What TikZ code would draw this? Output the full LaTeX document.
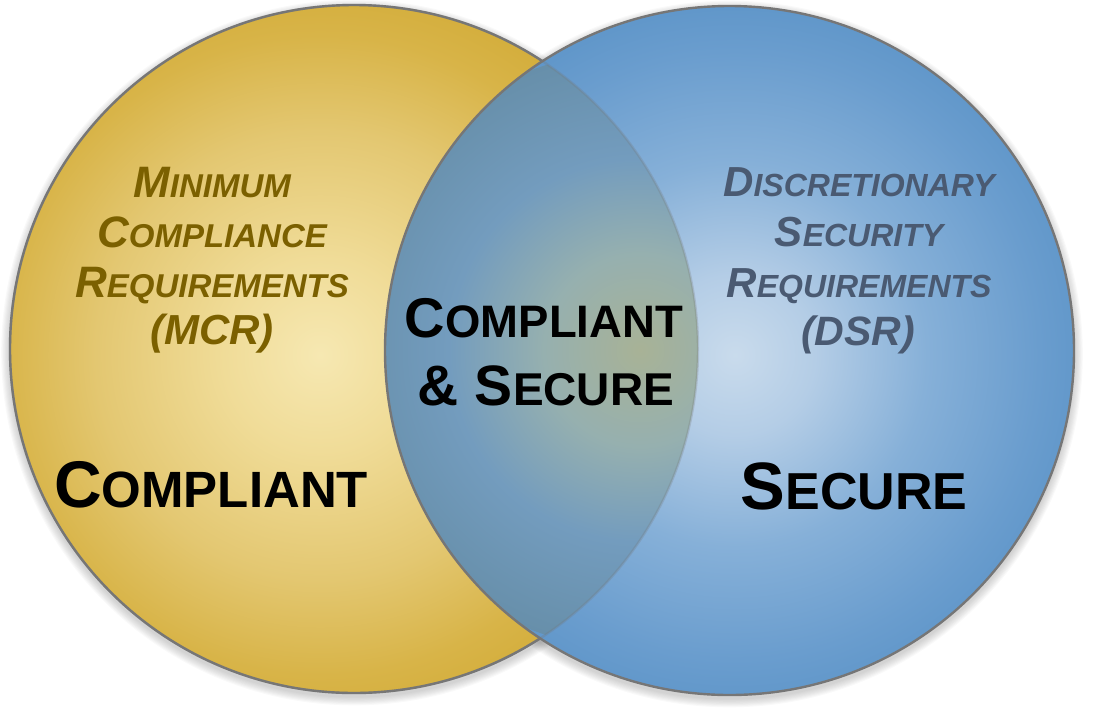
\documentclass[tikz,border=0pt]{standalone}
\usepackage{fontspec}
\setmainfont{Liberation Sans}
\definecolor{g0}{HTML}{F6E8B2}
\definecolor{g1}{HTML}{F0DC98}
\definecolor{g2}{HTML}{E3C771}
\definecolor{g3}{HTML}{D8B448}
\definecolor{g4}{HTML}{D1AA35}
\definecolor{b0}{HTML}{C9DBEC}
\definecolor{b1}{HTML}{B4CDE6}
\definecolor{b2}{HTML}{86B0D8}
\definecolor{b3}{HTML}{6A9DCE}
\definecolor{b4}{HTML}{5690C5}
\definecolor{o0}{RGB}{168,178,150}
\definecolor{o1}{RGB}{150,176,175}
\definecolor{o2}{RGB}{115,156,190}
\definecolor{o3}{RGB}{103,143,170}
\definecolor{linegrey}{HTML}{767676}
\definecolor{goldtext}{HTML}{7B6000}
\definecolor{bluetext}{HTML}{4A5A72}
\pgfdeclareradialshading{goldsh}{\pgfpointorigin}{color(0bp)=(g0); color(6bp)=(g1); color(14bp)=(g2); color(20bp)=(g3); color(25bp)=(g4); color(50bp)=(g4)}
\pgfdeclareradialshading{bluesh}{\pgfpointorigin}{color(0bp)=(b0); color(5bp)=(b1); color(12bp)=(b2); color(19bp)=(b3); color(25bp)=(b4); color(50bp)=(b4)}
\pgfdeclareradialshading{ovsh}{\pgfpointorigin}{color(0bp)=(o0); color(8bp)=(o1); color(16bp)=(o2); color(25bp)=(o3); color(50bp)=(o3)}
\newcommand\mysc[4]{{\fontsize{#1}{#1}\selectfont #3}{\fontsize{#2}{#2}\selectfont #4}}
\tikzset{
  outline/.style={draw=linegrey, line width=2.4pt},
  mcr/.style={text=goldtext, font=\bfseries\itshape, inner sep=0pt, anchor=base},
  dsr/.style={text=bluetext, font=\bfseries\itshape, inner sep=0pt, anchor=base},
  biglabel/.style={text=black, font=\bfseries, inner sep=0pt, anchor=base}
}
\begin{document}
\begin{tikzpicture}[x=1pt,y=-1pt]
\useasboundingbox (0,0) rectangle (1099,713);
\coordinate (C1) at (354,349);
\coordinate (C2) at (729.5,350.5);
% soft shadow
\foreach \k in {1,...,8}{
  \fill[black, opacity=0.022] (354,352.5) circle ({(344+1.1*\k)*1pt});
  \fill[black, opacity=0.022] (729.5,354) circle ({(344.5+1.1*\k)*1pt});
}
% left circle
\begin{scope}
  \clip (C1) circle (344pt);
  \shade[shading=goldsh] (320,355) circle (400pt);
\end{scope}
\draw[outline] (C1) circle (344pt);
% right circle
\begin{scope}
  \clip (C2) circle (344.5pt);
  \shade[shading=bluesh] (735,355) circle (400pt);
\end{scope}
% overlap
\begin{scope}
  \clip (C1) circle (344pt);
  \clip (C2) circle (344.5pt);
  \shade[shading=ovsh] (640,350) circle (300pt);
\end{scope}
\draw[outline, draw opacity=0.25] (C1) circle (344pt);
\draw[outline] (C2) circle (344.5pt);
% MCR
\node[mcr] (m1) at (212,197) {\mysc{44}{33}{M}{INIMUM}};
\node[mcr] (m2) at (212,247) {\mysc{44}{33}{C}{OMPLIANCE}};
\node[mcr] (m3) at (212,297) {\mysc{44}{33}{R}{EQUIREMENTS}};
\node[mcr] (m4) at (212,344) {\fontsize{42}{42}\selectfont (MCR)};
% DSR
\node[dsr] (d1) at (859,196) {\mysc{42}{32}{D}{ISCRETIONARY}};
\node[dsr] (d2) at (859,246) {\mysc{42}{32}{S}{ECURITY}};
\node[dsr] (d3) at (859,297) {\mysc{42}{32}{R}{EQUIREMENTS}};
\node[dsr] (d4) at (858,345) {\fontsize{41}{41}\selectfont (DSR)};
% big labels
\node[biglabel] (comp) at (211,507) {\mysc{66}{51}{C}{OMPLIANT}};
\node[biglabel] (sec) at (854,509) {\mysc{67}{52}{S}{ECURE}};
\node[biglabel] (cs1) at (544,337) {\mysc{56}{45.5}{C}{OMPLIANT}};
\node[biglabel] (cs2) at (546,405) {\mysc{57}{46}{\& S}{ECURE}};
\end{tikzpicture}
\end{document}
